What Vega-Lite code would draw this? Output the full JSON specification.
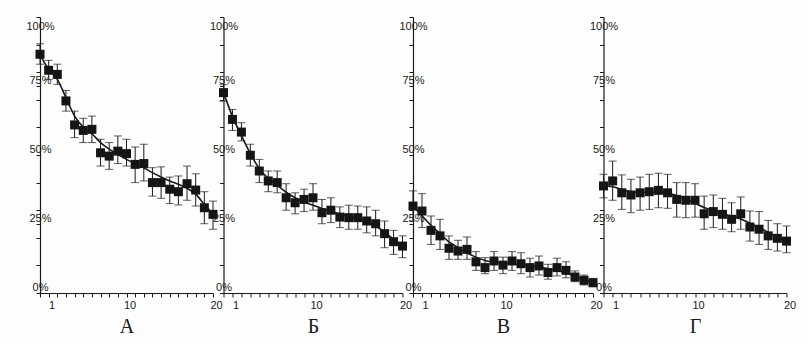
{
  "$schema": "https://vega.github.io/schema/vega-lite/v6.json",
  "background": "#fefefe",
  "padding": {"left": 25, "top": 16, "right": 8, "bottom": 5},
  "spacing": 10.5,
  "bounds": "flush",
  "config": {
    "view": {"stroke": null},
    "axis": {"grid": false, "domainColor": "#1a1a1a", "tickColor": "#1a1a1a", "labelColor": "#1a1a1a", "labelFont": "Liberation Sans", "labelFontSize": 11, "domainWidth": 1.2, "tickWidth": 1, "titleColor": "#1a1a1a"},
    "axisX": {"labelOverlap": false, "labelFlush": false, "tickSize": 4, "labelPadding": 2, "labelOffset": 3, "titleFont": "Liberation Serif", "titleFontSize": 20, "titleFontWeight": "normal", "titlePadding": 6},
    "axisY": {"labelOverlap": false, "labelFlush": false, "labelAlign": "center", "labelBaseline": "middle", "tickSize": 4, "labelPadding": -4}
  },
  "datasets": {
    "d": [
      {"p":"А","x":0,"y":86.5,"lo":82.9,"hi":90.3,"fit":86.5},
      {"p":"А","x":1,"y":80.7,"lo":77.4,"hi":84.3,"fit":81.0},
      {"p":"А","x":2,"y":79.2,"lo":75.6,"hi":82.9,"fit":77.4},
      {"p":"А","x":3,"y":69.6,"lo":65.9,"hi":73.4,"fit":70.8},
      {"p":"А","x":4,"y":60.9,"lo":56.3,"hi":65.9,"fit":64.1},
      {"p":"А","x":5,"y":58.9,"lo":54.5,"hi":63.3,"fit":60.1},
      {"p":"А","x":6,"y":59.3,"lo":54.5,"hi":64.1,"fit":57.7},
      {"p":"А","x":7,"y":50.8,"lo":46.0,"hi":55.7,"fit":54.5},
      {"p":"А","x":8,"y":49.6,"lo":44.8,"hi":54.5,"fit":52.1},
      {"p":"А","x":9,"y":51.4,"lo":46.9,"hi":56.9,"fit":50.2},
      {"p":"А","x":10,"y":50.5,"lo":46.0,"hi":55.7,"fit":48.4},
      {"p":"А","x":11,"y":46.6,"lo":40.0,"hi":52.9,"fit":46.9},
      {"p":"А","x":12,"y":46.9,"lo":40.6,"hi":53.9,"fit":45.4},
      {"p":"А","x":13,"y":40.0,"lo":35.1,"hi":45.4,"fit":43.6},
      {"p":"А","x":14,"y":40.0,"lo":34.3,"hi":45.7,"fit":42.0},
      {"p":"А","x":15,"y":37.6,"lo":32.4,"hi":42.0,"fit":40.6},
      {"p":"А","x":16,"y":36.7,"lo":31.9,"hi":42.4,"fit":39.4},
      {"p":"А","x":17,"y":39.6,"lo":33.6,"hi":46.0,"fit":37.9},
      {"p":"А","x":18,"y":37.3,"lo":31.5,"hi":43.2,"fit":35.8},
      {"p":"А","x":19,"y":30.9,"lo":25.1,"hi":36.7,"fit":32.1},
      {"p":"А","x":20,"y":28.5,"lo":23.1,"hi":33.3,"fit":28.5},
      {"p":"Б","x":0,"y":72.6,"lo":69.5,"hi":75.5,"fit":72.6},
      {"p":"Б","x":1,"y":62.9,"lo":58.9,"hi":66.5,"fit":64.0},
      {"p":"Б","x":2,"y":58.3,"lo":55.1,"hi":61.7,"fit":57.0},
      {"p":"Б","x":3,"y":49.9,"lo":46.0,"hi":53.9,"fit":50.5},
      {"p":"Б","x":4,"y":44.2,"lo":40.0,"hi":48.4,"fit":45.0},
      {"p":"Б","x":5,"y":40.6,"lo":36.7,"hi":44.2,"fit":41.5},
      {"p":"Б","x":6,"y":40.0,"lo":36.3,"hi":44.2,"fit":39.0},
      {"p":"Б","x":7,"y":34.5,"lo":30.0,"hi":39.6,"fit":36.5},
      {"p":"Б","x":8,"y":32.7,"lo":28.7,"hi":36.3,"fit":34.5},
      {"p":"Б","x":9,"y":33.9,"lo":29.5,"hi":37.6,"fit":33.0},
      {"p":"Б","x":10,"y":34.5,"lo":30.0,"hi":39.6,"fit":31.8},
      {"p":"Б","x":11,"y":29.1,"lo":25.1,"hi":33.9,"fit":30.6},
      {"p":"Б","x":12,"y":30.0,"lo":25.5,"hi":34.5,"fit":29.6},
      {"p":"Б","x":13,"y":27.5,"lo":23.7,"hi":31.2,"fit":28.6},
      {"p":"Б","x":14,"y":27.3,"lo":23.1,"hi":31.8,"fit":27.7},
      {"p":"Б","x":15,"y":27.3,"lo":23.1,"hi":31.5,"fit":26.8},
      {"p":"Б","x":16,"y":26.1,"lo":21.8,"hi":31.2,"fit":25.7},
      {"p":"Б","x":17,"y":25.1,"lo":20.7,"hi":30.0,"fit":24.3},
      {"p":"Б","x":18,"y":21.5,"lo":16.4,"hi":26.1,"fit":22.0},
      {"p":"Б","x":19,"y":18.6,"lo":14.0,"hi":22.7,"fit":19.5},
      {"p":"Б","x":20,"y":17.0,"lo":12.8,"hi":20.7,"fit":17.0},
      {"p":"В","x":0,"y":31.5,"lo":26.1,"hi":37.0,"fit":31.5},
      {"p":"В","x":1,"y":29.7,"lo":23.7,"hi":36.0,"fit":28.0},
      {"p":"В","x":2,"y":22.7,"lo":17.6,"hi":27.9,"fit":24.5},
      {"p":"В","x":3,"y":20.7,"lo":15.8,"hi":26.7,"fit":21.5},
      {"p":"В","x":4,"y":16.2,"lo":12.2,"hi":20.7,"fit":18.5},
      {"p":"В","x":5,"y":15.2,"lo":12.2,"hi":19.1,"fit":16.5},
      {"p":"В","x":6,"y":15.8,"lo":12.2,"hi":20.3,"fit":14.5},
      {"p":"В","x":7,"y":11.3,"lo":8.2,"hi":15.0,"fit":13.0},
      {"p":"В","x":8,"y":9.2,"lo":7.0,"hi":12.8,"fit":11.8},
      {"p":"В","x":9,"y":11.6,"lo":8.2,"hi":15.0,"fit":11.2},
      {"p":"В","x":10,"y":10.1,"lo":7.0,"hi":13.0,"fit":10.8},
      {"p":"В","x":11,"y":11.6,"lo":8.2,"hi":15.0,"fit":10.5},
      {"p":"В","x":12,"y":10.6,"lo":7.0,"hi":14.6,"fit":10.2},
      {"p":"В","x":13,"y":9.2,"lo":5.8,"hi":12.6,"fit":9.8},
      {"p":"В","x":14,"y":9.8,"lo":6.5,"hi":13.4,"fit":9.4},
      {"p":"В","x":15,"y":7.4,"lo":5.0,"hi":10.4,"fit":8.8},
      {"p":"В","x":16,"y":9.2,"lo":6.2,"hi":12.6,"fit":8.2},
      {"p":"В","x":17,"y":8.2,"lo":5.5,"hi":11.3,"fit":7.3},
      {"p":"В","x":18,"y":5.8,"lo":4.1,"hi":8.0,"fit":6.0},
      {"p":"В","x":19,"y":4.6,"lo":2.9,"hi":6.5,"fit":4.8},
      {"p":"В","x":20,"y":3.7,"lo":2.5,"hi":5.3,"fit":3.7},
      {"p":"Г","x":0,"y":38.8,"lo":34.5,"hi":43.0,"fit":38.8},
      {"p":"Г","x":1,"y":40.6,"lo":33.6,"hi":47.8,"fit":38.5},
      {"p":"Г","x":2,"y":36.3,"lo":30.3,"hi":42.8,"fit":37.5},
      {"p":"Г","x":3,"y":35.5,"lo":29.1,"hi":41.2,"fit":36.8},
      {"p":"Г","x":4,"y":36.3,"lo":30.0,"hi":42.0,"fit":36.5},
      {"p":"Г","x":5,"y":36.7,"lo":30.3,"hi":43.0,"fit":36.5},
      {"p":"Г","x":6,"y":37.2,"lo":30.9,"hi":43.4,"fit":36.5},
      {"p":"Г","x":7,"y":36.3,"lo":30.7,"hi":43.0,"fit":36.2},
      {"p":"Г","x":8,"y":33.9,"lo":27.5,"hi":40.0,"fit":35.3},
      {"p":"Г","x":9,"y":33.6,"lo":27.3,"hi":40.0,"fit":34.0},
      {"p":"Г","x":10,"y":33.6,"lo":27.5,"hi":39.6,"fit":32.5},
      {"p":"Г","x":11,"y":28.7,"lo":23.1,"hi":35.1,"fit":31.0},
      {"p":"Г","x":12,"y":29.5,"lo":23.7,"hi":35.5,"fit":29.8},
      {"p":"Г","x":13,"y":28.5,"lo":23.1,"hi":34.3,"fit":28.8},
      {"p":"Г","x":14,"y":26.7,"lo":22.2,"hi":32.7,"fit":27.8},
      {"p":"Г","x":15,"y":28.7,"lo":23.1,"hi":34.8,"fit":26.8},
      {"p":"Г","x":16,"y":23.9,"lo":18.8,"hi":29.7,"fit":25.3},
      {"p":"Г","x":17,"y":23.1,"lo":17.6,"hi":29.5,"fit":23.7},
      {"p":"Г","x":18,"y":20.7,"lo":15.8,"hi":26.3,"fit":22.0},
      {"p":"Г","x":19,"y":19.8,"lo":15.2,"hi":25.1,"fit":20.3},
      {"p":"Г","x":20,"y":18.8,"lo":14.6,"hi":24.3,"fit":18.8}
    ]
  },
  "hconcat": [
    {
      "width": 173, "height": 276,
      "data": {"name": "d"},
      "transform": [{"filter": "datum.p === 'А'"}],
      "encoding": {"x": {"field": "x", "type": "quantitative", "scale": {"domain": [0, 20], "nice": false}, "axis": {"title": "А", "labelOverlap": false, "values": [0,1,2,3,4,5,6,7,8,9,10,11,12,13,14,15,16,17,18,19,20], "labelExpr": "datum.value==1||datum.value==10||datum.value==20 ? datum.label : ''"}}},
      "layer": [
        {"mark": {"type": "errorbar", "ticks": {"size": 8, "thickness": 1, "color": "#1a1a1a"}, "rule": {"strokeWidth": 1, "color": "#1a1a1a"}, "color": "#1a1a1a"},
         "encoding": {"y": {"field": "lo", "type": "quantitative", "title": null, "scale": {"domain": [0, 100], "nice": false}, "axis": {"labelOverlap": false, "labelOffset": {"condition": {"test": "datum.value == 100", "value": 9}, "value": -6}, "values": [0,10,20,25,30,40,50,60,70,75,80,90,100], "labelExpr": "datum.value%25==0 ? datum.value+'%' : ''"}}, "y2": {"field": "hi"}}},
        {"mark": {"type": "line", "interpolate": "monotone", "color": "#1a1a1a", "strokeWidth": 1.6},
         "encoding": {"y": {"field": "fit", "type": "quantitative", "title": null, "axis": {"labelOverlap": false, "labelOffset": {"condition": {"test": "datum.value == 100", "value": 9}, "value": -6}, "values": [0,10,20,25,30,40,50,60,70,75,80,90,100], "labelExpr": "datum.value%25==0 ? datum.value+'%' : ''"}}}},
        {"mark": {"type": "square", "size": 81, "opacity": 1, "filled": true, "color": "#151515"},
         "encoding": {"y": {"field": "y", "type": "quantitative", "title": null, "axis": {"labelOverlap": false, "labelOffset": {"condition": {"test": "datum.value == 100", "value": 9}, "value": -6}, "values": [0,10,20,25,30,40,50,60,70,75,80,90,100], "labelExpr": "datum.value%25==0 ? datum.value+'%' : ''"}}}}
      ]
    },
    {
      "width": 179, "height": 276,
      "data": {"name": "d"},
      "transform": [{"filter": "datum.p === 'Б'"}],
      "encoding": {"x": {"field": "x", "type": "quantitative", "scale": {"domain": [0, 20], "nice": false}, "axis": {"title": "Б", "labelOverlap": false, "values": [0,1,2,3,4,5,6,7,8,9,10,11,12,13,14,15,16,17,18,19,20], "labelExpr": "datum.value==1||datum.value==10||datum.value==20 ? datum.label : ''"}}},
      "layer": [
        {"mark": {"type": "errorbar", "ticks": {"size": 8, "thickness": 1, "color": "#1a1a1a"}, "rule": {"strokeWidth": 1, "color": "#1a1a1a"}, "color": "#1a1a1a"},
         "encoding": {"y": {"field": "lo", "type": "quantitative", "title": null, "scale": {"domain": [0, 100], "nice": false}, "axis": {"labelOverlap": false, "labelOffset": {"condition": {"test": "datum.value == 100", "value": 9}, "value": -6}, "values": [0,10,20,25,30,40,50,60,70,75,80,90,100], "labelExpr": "datum.value%25==0 ? datum.value+'%' : ''"}}, "y2": {"field": "hi"}}},
        {"mark": {"type": "line", "interpolate": "monotone", "color": "#1a1a1a", "strokeWidth": 1.6},
         "encoding": {"y": {"field": "fit", "type": "quantitative", "title": null, "axis": {"labelOverlap": false, "labelOffset": {"condition": {"test": "datum.value == 100", "value": 9}, "value": -6}, "values": [0,10,20,25,30,40,50,60,70,75,80,90,100], "labelExpr": "datum.value%25==0 ? datum.value+'%' : ''"}}}},
        {"mark": {"type": "square", "size": 81, "opacity": 1, "filled": true, "color": "#151515"},
         "encoding": {"y": {"field": "y", "type": "quantitative", "title": null, "axis": {"labelOverlap": false, "labelOffset": {"condition": {"test": "datum.value == 100", "value": 9}, "value": -6}, "values": [0,10,20,25,30,40,50,60,70,75,80,90,100], "labelExpr": "datum.value%25==0 ? datum.value+'%' : ''"}}}}
      ]
    },
    {
      "width": 180, "height": 276,
      "data": {"name": "d"},
      "transform": [{"filter": "datum.p === 'В'"}],
      "encoding": {"x": {"field": "x", "type": "quantitative", "scale": {"domain": [0, 20], "nice": false}, "axis": {"title": "В", "labelOverlap": false, "values": [0,1,2,3,4,5,6,7,8,9,10,11,12,13,14,15,16,17,18,19,20], "labelExpr": "datum.value==1||datum.value==10||datum.value==20 ? datum.label : ''"}}},
      "layer": [
        {"mark": {"type": "errorbar", "ticks": {"size": 8, "thickness": 1, "color": "#1a1a1a"}, "rule": {"strokeWidth": 1, "color": "#1a1a1a"}, "color": "#1a1a1a"},
         "encoding": {"y": {"field": "lo", "type": "quantitative", "title": null, "scale": {"domain": [0, 100], "nice": false}, "axis": {"labelOverlap": false, "labelOffset": {"condition": {"test": "datum.value == 100", "value": 9}, "value": -6}, "values": [0,10,20,25,30,40,50,60,70,75,80,90,100], "labelExpr": "datum.value%25==0 ? datum.value+'%' : ''"}}, "y2": {"field": "hi"}}},
        {"mark": {"type": "line", "interpolate": "monotone", "color": "#1a1a1a", "strokeWidth": 1.6},
         "encoding": {"y": {"field": "fit", "type": "quantitative", "title": null, "axis": {"labelOverlap": false, "labelOffset": {"condition": {"test": "datum.value == 100", "value": 9}, "value": -6}, "values": [0,10,20,25,30,40,50,60,70,75,80,90,100], "labelExpr": "datum.value%25==0 ? datum.value+'%' : ''"}}}},
        {"mark": {"type": "square", "size": 81, "opacity": 1, "filled": true, "color": "#151515"},
         "encoding": {"y": {"field": "y", "type": "quantitative", "title": null, "axis": {"labelOverlap": false, "labelOffset": {"condition": {"test": "datum.value == 100", "value": 9}, "value": -6}, "values": [0,10,20,25,30,40,50,60,70,75,80,90,100], "labelExpr": "datum.value%25==0 ? datum.value+'%' : ''"}}}}
      ]
    },
    {
      "width": 183, "height": 276,
      "data": {"name": "d"},
      "transform": [{"filter": "datum.p === 'Г'"}],
      "encoding": {"x": {"field": "x", "type": "quantitative", "scale": {"domain": [0, 20], "nice": false}, "axis": {"title": "Г", "labelOverlap": false, "values": [0,1,2,3,4,5,6,7,8,9,10,11,12,13,14,15,16,17,18,19,20], "labelExpr": "datum.value==1||datum.value==10||datum.value==20 ? datum.label : ''"}}},
      "layer": [
        {"mark": {"type": "errorbar", "ticks": {"size": 8, "thickness": 1, "color": "#1a1a1a"}, "rule": {"strokeWidth": 1, "color": "#1a1a1a"}, "color": "#1a1a1a"},
         "encoding": {"y": {"field": "lo", "type": "quantitative", "title": null, "scale": {"domain": [0, 100], "nice": false}, "axis": {"labelOverlap": false, "labelOffset": {"condition": {"test": "datum.value == 100", "value": 9}, "value": -6}, "values": [0,10,20,25,30,40,50,60,70,75,80,90,100], "labelExpr": "datum.value%25==0 ? datum.value+'%' : ''"}}, "y2": {"field": "hi"}}},
        {"mark": {"type": "line", "interpolate": "monotone", "color": "#1a1a1a", "strokeWidth": 1.6},
         "encoding": {"y": {"field": "fit", "type": "quantitative", "title": null, "axis": {"labelOverlap": false, "labelOffset": {"condition": {"test": "datum.value == 100", "value": 9}, "value": -6}, "values": [0,10,20,25,30,40,50,60,70,75,80,90,100], "labelExpr": "datum.value%25==0 ? datum.value+'%' : ''"}}}},
        {"mark": {"type": "square", "size": 81, "opacity": 1, "filled": true, "color": "#151515"},
         "encoding": {"y": {"field": "y", "type": "quantitative", "title": null, "axis": {"labelOverlap": false, "labelOffset": {"condition": {"test": "datum.value == 100", "value": 9}, "value": -6}, "values": [0,10,20,25,30,40,50,60,70,75,80,90,100], "labelExpr": "datum.value%25==0 ? datum.value+'%' : ''"}}}}
      ]
    }
  ]
}
